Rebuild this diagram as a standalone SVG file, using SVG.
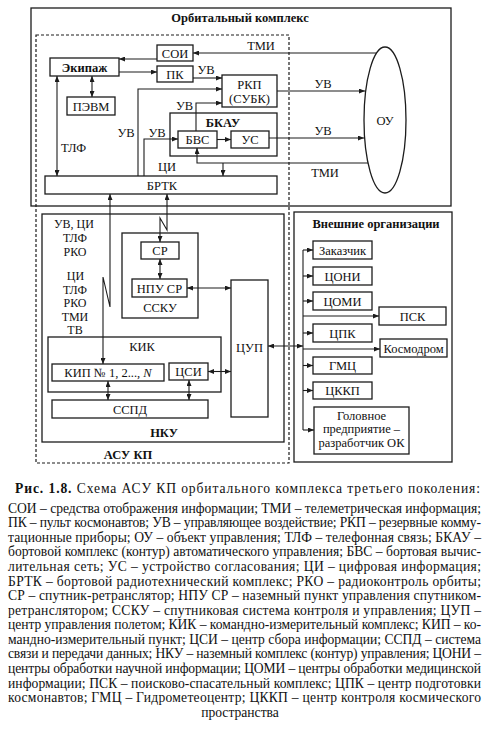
<svg xmlns="http://www.w3.org/2000/svg" width="490" height="729" viewBox="0 0 490 729">
<defs>
<style>
.bx{fill:#fff;stroke:#1c1c1c;stroke-width:1.3}
.fr{fill:none;stroke:#1c1c1c;stroke-width:1.3}
.ds{fill:none;stroke:#1c1c1c;stroke-width:1.2;stroke-dasharray:3 2}
.c{fill:none;stroke:#1c1c1c;stroke-width:1.1}
.e{marker-end:url(#a)}
.d{marker-start:url(#a);marker-end:url(#a)}
.t{font-family:"Liberation Serif","Times New Roman",serif;font-size:12.5px;fill:#111;text-anchor:middle}
.s{font-size:12px}
.bd{font-weight:bold}
.cap{font-family:"Liberation Serif","Times New Roman",serif;font-size:13.6px;fill:#111}
</style>
<marker id="a" viewBox="0 0 6 5" refX="6" refY="2.5" markerWidth="6" markerHeight="5" markerUnits="userSpaceOnUse" orient="auto-start-reverse"><path d="M0,0 L6,2.5 L0,5 z" fill="#1c1c1c"/></marker>
</defs>
<rect width="490" height="729" fill="#fff"/>

<g id="orbital-complex">
<rect class="fr" x="31" y="8" width="420" height="198"/>
<text class="t bd" x="240" y="22">Орбитальный комплекс</text>
</g>
<g id="asu-kp">
<rect class="ds" x="36" y="35" width="253" height="428"/>
<text class="t bd" x="128" y="459">АСУ КП</text>
</g>
<g id="nku">
<rect class="fr" x="42" y="214" width="242" height="228"/>
<text class="t bd" x="164" y="437">НКУ</text>
</g>
<g id="external">
<rect class="fr" x="294" y="212" width="158" height="250"/>
<text class="t bd" x="376" y="228">Внешние организации</text>
</g>

<g id="connectors">
<path class="c e" d="M376,53 H193"/>
<path class="c e" d="M157,59 H119"/>
<path class="c e" d="M119,72 H157"/>
<path class="c d" d="M92,76 V97"/>
<path class="c e" d="M193,78 H222"/>
<path class="c e" d="M277,91 H365"/>
<path class="c e" d="M269,138 H364"/>
<path class="c e" d="M138,176 V89 H222"/>
<path class="c e" d="M144,176 V139 H178"/>
<path class="c e" d="M196,131 V103 H222"/>
<path class="c e" d="M217,139.5 H231"/>
<path class="c e" d="M368,163 H197 V148"/>
<path class="c e" d="M223,163 V176"/>
<path class="c d" d="M57,76 V176"/>
<path class="c d" d="M167,194 V230 L160,218 V242"/>
<path class="c d" d="M110,194 V307 L103,277 V364"/>
<path class="c d" d="M160,259 V279"/>
<path class="c d" d="M187,288 H231"/>
<path class="c d" d="M208,371.5 H231"/>
<path class="c d" d="M108,381 V400"/>
<path class="c d" d="M189,380 V400"/>
<path class="c d" d="M268,346 H303"/>
<path class="c" d="M303,250 V430"/>
<path class="c e" d="M303,250 H313"/>
<path class="c e" d="M303,276 H313"/>
<path class="c e" d="M303,301 H313"/>
<path class="c e" d="M303,333 H313"/>
<path class="c e" d="M303,365.5 H313"/>
<path class="c e" d="M303,390.5 H313"/>
<path class="c e" d="M303,430 H314"/>
<path class="c e" d="M303,316 H379"/>
<path class="c e" d="M303,349 H380"/>
<text class="t" x="261" y="50">ТМИ</text>
<text class="t" x="206" y="74">УВ</text>
<text class="t" x="323" y="88">УВ</text>
<text class="t" x="323" y="135">УВ</text>
<text class="t" x="126" y="137">УВ</text>
<text class="t" x="157" y="137">УВ</text>
<text class="t" x="184.5" y="110">УВ</text>
<text class="t" x="325" y="177">ТМИ</text>
<text class="t" x="167" y="171">ЦИ</text>
<text class="t" x="73.5" y="152">ТЛФ</text>
<text class="t s" x="74" y="228">УВ, ЦИ</text>
<text class="t s" x="75" y="242">ТЛФ</text>
<text class="t s" x="75" y="256">РКО</text>
<text class="t s" x="75.5" y="280">ЦИ</text>
<text class="t s" x="75" y="293.5">ТЛФ</text>
<text class="t s" x="75" y="307">РКО</text>
<text class="t s" x="75" y="320.5">ТМИ</text>
<text class="t s" x="75" y="334">ТВ</text>
</g>

<g id="ekipazh"><rect class="bx" x="50" y="58" width="69" height="18"/><text class="t bd" x="84.5" y="71.5">Экипаж</text></g>
<g id="soi"><rect class="bx" x="157" y="45" width="36" height="16"/><text class="t" x="175" y="57.5">СОИ</text></g>
<g id="pk"><rect class="bx" x="157" y="66" width="36" height="16"/><text class="t" x="175" y="78.5">ПК</text></g>
<g id="pevm"><rect class="bx" x="67" y="97" width="48" height="18"/><text class="t" x="91" y="110.5">ПЭВМ</text></g>
<g id="rkp"><rect class="bx" x="222" y="75" width="55" height="32"/><text class="t" x="249.5" y="89">РКП</text><text class="t" x="249.5" y="103">(СУБК)</text></g>
<g id="bkau"><rect class="fr" x="170" y="113" width="107" height="43"/><text class="t bd" x="223" y="127">БКАУ</text></g>
<g id="bvs"><rect class="bx" x="178" y="131" width="39" height="17"/><text class="t" x="197.5" y="144">БВС</text></g>
<g id="us"><rect class="bx" x="231" y="131" width="38" height="17"/><text class="t" x="250" y="144">УС</text></g>
<g id="brtk"><rect class="bx" x="45" y="176" width="232" height="18"/><text class="t" x="162" y="189.5">БРТК</text></g>
<g id="ou"><ellipse class="fr" cx="385" cy="120" rx="21" ry="73"/><text class="t" x="385" y="124.5">ОУ</text></g>

<g id="ssku"><rect class="fr" x="122" y="233" width="76" height="85"/><text class="t" x="160" y="312">ССКУ</text></g>
<g id="sr"><rect class="bx" x="141" y="242" width="38" height="17"/><text class="t" x="160" y="255">СР</text></g>
<g id="npu-sr"><rect class="bx" x="132" y="279" width="55" height="18"/><text class="t" x="159.5" y="292.5">НПУ СР</text></g>
<g id="tsup"><rect class="bx" x="231" y="280" width="37" height="137"/><text class="t" x="249.5" y="352">ЦУП</text></g>
<g id="kik"><rect class="fr" x="48" y="337" width="173" height="55"/><text class="t" x="142" y="351">КИК</text></g>
<g id="kip"><rect class="bx" x="52" y="364" width="112" height="17"/><text class="t" x="108" y="377">КИП № 1, 2..., <tspan font-style="italic">N</tspan></text></g>
<g id="tssi"><rect class="bx" x="169" y="363" width="39" height="17"/><text class="t" x="188.5" y="376">ЦСИ</text></g>
<g id="sspd"><rect class="bx" x="52" y="400" width="156" height="18"/><text class="t" x="130" y="413.5">ССПД</text></g>

<g id="zakazchik"><rect class="bx" x="313" y="241" width="59" height="18"/><text class="t" x="342.5" y="254.5">Заказчик</text></g>
<g id="tsoni"><rect class="bx" x="313" y="267" width="59" height="18"/><text class="t" x="342.5" y="280.5">ЦОНИ</text></g>
<g id="tsomi"><rect class="bx" x="313" y="292" width="59" height="18"/><text class="t" x="342.5" y="305.5">ЦОМИ</text></g>
<g id="psk"><rect class="bx" x="379" y="307" width="67" height="18"/><text class="t" x="412.5" y="320.5">ПСК</text></g>
<g id="tspk"><rect class="bx" x="313" y="324" width="59" height="18"/><text class="t" x="342.5" y="337.5">ЦПК</text></g>
<g id="kosmodrom"><rect class="bx" x="380" y="339" width="67" height="18"/><text class="t" x="413.5" y="352.5">Космодром</text></g>
<g id="gmts"><rect class="bx" x="313" y="357" width="59" height="17"/><text class="t" x="342.5" y="370">ГМЦ</text></g>
<g id="tskkp"><rect class="bx" x="313" y="382" width="59" height="17"/><text class="t" x="342.5" y="395">ЦККП</text></g>
<g id="golovnoe"><rect class="bx" x="314" y="407" width="95" height="47"/><text class="t" x="361.5" y="420">Головное</text><text class="t" x="361.5" y="433">предприятие –</text><text class="t" x="361.5" y="447">разработчик ОК</text></g>

<g id="caption">
<text class="cap" x="15" y="493" font-size="15.5" textLength="465" lengthAdjust="spacing"><tspan font-weight="bold">Рис. 1.8.</tspan> Схема АСУ КП орбитального комплекса третьего поколения:</text>
<text class="cap" x="8" y="512.5" textLength="473" lengthAdjust="spacing">СОИ – средства отображения информации; ТМИ – телеметрическая информация;</text>
<text class="cap" x="8" y="527" textLength="473" lengthAdjust="spacing">ПК – пульт космонавтов; УВ – управляющее воздействие; РКП – резервные комму-</text>
<text class="cap" x="8" y="541.5" textLength="473" lengthAdjust="spacing">тационные приборы; ОУ – объект управления; ТЛФ – телефонная связь; БКАУ –</text>
<text class="cap" x="8" y="556" textLength="473" lengthAdjust="spacing">бортовой комплекс (контур) автоматического управления; БВС – бортовая вычис-</text>
<text class="cap" x="8" y="571" textLength="473" lengthAdjust="spacing">лительная сеть; УС – устройство согласования; ЦИ – цифровая информация;</text>
<text class="cap" x="8" y="585.5" textLength="473" lengthAdjust="spacing">БРТК – бортовой радиотехнический комплекс; РКО – радиоконтроль орбиты;</text>
<text class="cap" x="8" y="600" textLength="473" lengthAdjust="spacing">СР – спутник-ретранслятор; НПУ СР – наземный пункт управления спутником-</text>
<text class="cap" x="8" y="614.5" textLength="473" lengthAdjust="spacing">ретранслятором; ССКУ – спутниковая система контроля и управления; ЦУП –</text>
<text class="cap" x="8" y="629" textLength="473" lengthAdjust="spacing">центр управления полетом; КИК – командно-измерительный комплекс; КИП – ко-</text>
<text class="cap" x="8" y="643.5" textLength="473" lengthAdjust="spacing">мандно-измерительный пункт; ЦСИ – центр сбора информации; ССПД – система</text>
<text class="cap" x="8" y="658" textLength="473" lengthAdjust="spacing">связи и передачи данных; НКУ – наземный комплекс (контур) управления; ЦОНИ –</text>
<text class="cap" x="8" y="673" textLength="473" lengthAdjust="spacing">центры обработки научной информации; ЦОМИ – центры обработки медицинской</text>
<text class="cap" x="8" y="687.5" textLength="473" lengthAdjust="spacing">информации; ПСК – поисково-спасательный комплекс; ЦПК – центр подготовки</text>
<text class="cap" x="8" y="702" textLength="473" lengthAdjust="spacing">космонавтов; ГМЦ – Гидрометеоцентр; ЦККП – центр контроля космического</text>
<text class="cap" x="240" y="716.5" text-anchor="middle">пространства</text>
</g>
</svg>
